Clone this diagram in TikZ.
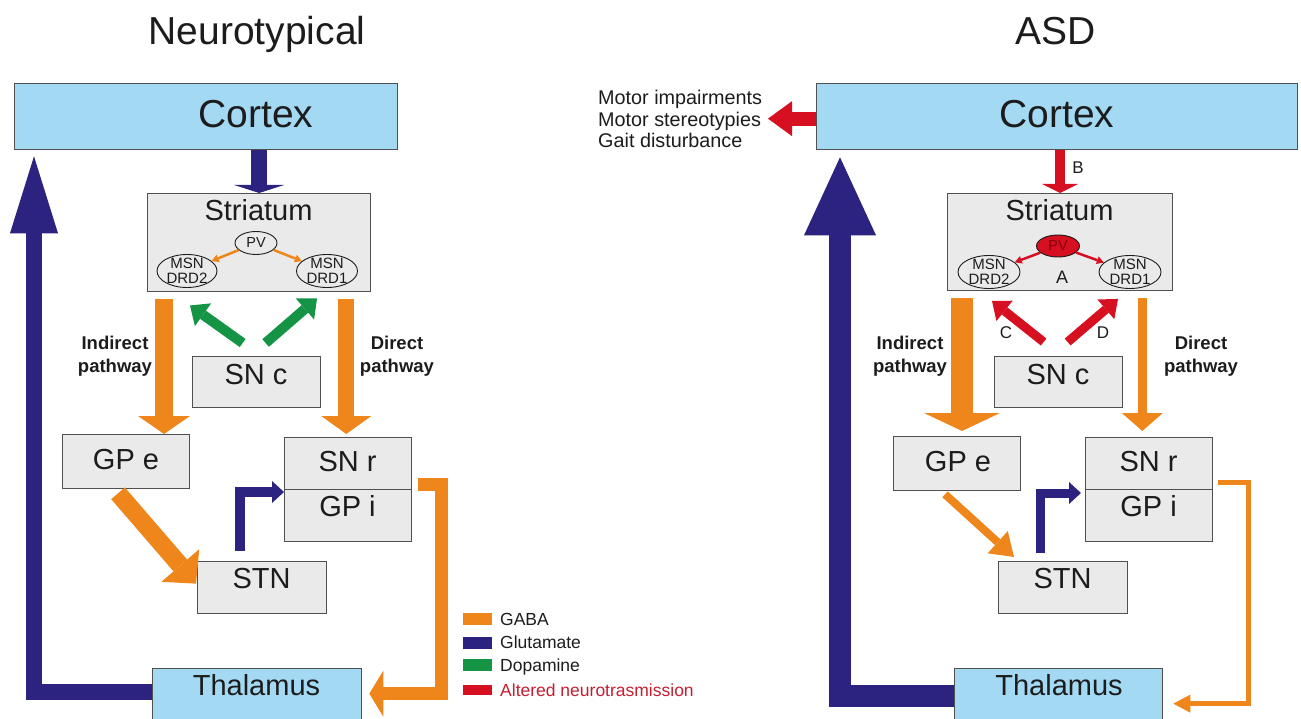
\documentclass[tikz,border=0pt]{standalone}
\usepackage{fontspec}
\setmainfont{Liberation Sans}
\usetikzlibrary{arrows.meta,calc,shapes.geometric}
\definecolor{cblue}{RGB}{164,217,244}
\definecolor{cgray}{RGB}{234,234,234}
\definecolor{cedge}{RGB}{80,80,80}
\definecolor{corange}{RGB}{239,134,27}
\definecolor{cnavy}{RGB}{44,34,128}
\definecolor{cgreen}{RGB}{20,148,68}
\definecolor{cred}{RGB}{214,16,32}
\definecolor{ctext}{RGB}{28,28,28}
\definecolor{credtext}{RGB}{196,30,48}
\definecolor{cpvtext}{RGB}{140,0,10}
\newcommand{\myfs}[2]{\fontsize{#1}{#2}\selectfont}
\begin{document}
\begin{tikzpicture}[x=1pt,y=-1pt,
  boxb/.style={draw=cedge,line width=1.3pt,fill=cblue,anchor=north west,inner sep=0pt},
  boxg/.style={draw=cedge,line width=1.3pt,fill=cgray,anchor=north west,inner sep=0pt},
  txbig/.style={font=\myfs{39}{46},text=ctext,inner sep=0pt,anchor=base},
  txmid/.style={font=\myfs{29}{34},text=ctext,inner sep=0pt,anchor=base},
  txpath/.style={font=\bfseries\myfs{18.5}{23},text=ctext,align=center,inner sep=0pt},
  txsmall/.style={font=\myfs{17}{20},text=ctext,inner sep=0pt},
  txleg/.style={font=\myfs{17.5}{21},text=ctext,inner sep=0pt,anchor=base west},
  txmotor/.style={font=\myfs{19.8}{21.5},text=ctext,inner sep=0pt,align=left},
  legr/.style={minimum width=29pt,minimum height=12pt,inner sep=0pt},
  oval/.style={ellipse,draw=ctext,line width=0.9pt,inner sep=0pt},
  ovtext/.style={font=\myfs{15}{15},text=ctext,align=center,inner sep=0pt},
  arr/.style 2 args={-{Triangle[width=#1,length=#2,line width=0pt]}},
  flow/.style={line cap=butt,line join=miter},
]
\useasboundingbox (0,0) rectangle (1301,719);
\clip (0,0) rectangle (1301,719);

% ---------------- titles
\node[txbig] (tL) at (257,45) {Neurotypical};
\node[txbig] (tR) at (1056,45) {ASD};

% ================= LEFT PANEL =================
\node[boxb,minimum width=383pt,minimum height=66pt] (ctxL) at (14,83) {};
\node[txbig] (ctxLt) at (256,128) {Cortex};
\node[boxg,minimum width=223pt,minimum height=98pt] (stL) at (147,193) {};
\node[txmid] (stLt) at (258.5,221) {Striatum};
\node[oval,minimum width=42pt,minimum height=23pt,font=\myfs{14.5}{14},text=ctext] (pvL) at (256,243) {PV};
\node[oval,minimum width=60pt,minimum height=33pt] (d2L) at (187,271) {};
\node[ovtext] (d2Lt) at (187,271) {MSN\\DRD2};
\node[oval,minimum width=61pt,minimum height=33pt] (d1L) at (327,271) {};
\node[ovtext] (d1Lt) at (327,271) {MSN\\DRD1};
\node[boxg,minimum width=128pt,minimum height=51pt] (sncL) at (192,356) {};
\node[txmid] (sncLt) at (256,384) {SN c};
\node[boxg,minimum width=127pt,minimum height=54pt] (gpeL) at (62,434) {};
\node[txmid] (gpeLt) at (126,469) {GP e};
\node[boxg,minimum width=127pt,minimum height=52pt] (snrL) at (284,437) {};
\node[txmid] (snrLt) at (347.5,471) {SN r};
\node[boxg,minimum width=127pt,minimum height=52pt] (gpiL) at (284,489) {};
\node[txmid] (gpiLt) at (347.5,516) {GP i};
\node[boxg,minimum width=129pt,minimum height=52pt] (stnL) at (197,561) {};
\node[txmid] (stnLt) at (261.5,588) {STN};
\node[boxb,minimum width=209pt,minimum height=56pt] (thL) at (152,668) {};
\node[txmid] (thLt) at (256.5,695) {Thalamus};
\node[txpath] (indL) at (115,356) {Indirect\\pathway};
\node[txpath] (dirL) at (397,356) {Direct\\pathway};

% arrows left
\draw[flow,cnavy,line width=16pt,arr={50pt}{8pt}] (stL.north |- ctxL.south) -- (stL.north);
\draw[corange,line width=2.5pt,-{Triangle[width=8pt,length=7pt,line width=0pt]}] (pvL) -- (d2L);
\draw[corange,line width=2.5pt,-{Triangle[width=8pt,length=7pt,line width=0pt]}] (pvL) -- (d1L);
\coordinate (inLs) at ($(stL.south west)+(17,7)$);
\draw[flow,corange,line width=18pt,arr={52pt}{18pt}] (inLs) -- (inLs |- gpeL.north);
\coordinate (drLs) at ($(stL.south east)+(-25,7)$);
\draw[flow,corange,line width=16pt,arr={50pt}{18pt},shorten >=3pt] (drLs) -- (drLs |- snrL.north);
\draw[flow,cgreen,line width=10pt,arr={28pt}{16pt}] ($(sncL.north)+(-14,-13)$) -- ($(d2L.south)+(3,17.5)$);
\draw[flow,cgreen,line width=10pt,arr={28pt}{16pt}] ($(sncL.north)+(9,-13)$) -- ($(d1L.south)+(-10,10.5)$);
\draw[flow,corange,line width=18pt,arr={50pt}{24pt}] ($(gpeL.south west)+(56,4)$) -- ($(stnL.west)+(-1,-4)$);
\draw[flow,cnavy,line width=10pt,arr={22pt}{12pt}] ($(stnL.north west)+(43,-10)$) |- ($(gpiL.north west)+(0,3)$);
\draw[flow,corange,line width=13pt,arr={46pt}{14pt}] ($(snrL.south east)+(6,-6)$) -| ($(thL.east)+(79,-3)$) -- ($(thL.east)+(7,-3)$);
\draw[flow,cnavy,line width=16pt,arr={48pt}{77pt}] ($(thL.west)+(0,-5)$) -| ($(ctxL.south west)+(20,6)$);

% legend
\node[legr,fill=corange] (lgA) at (477.5,619) {};
\node[txleg] (lgAt) at (500,625) {GABA};
\node[legr,fill=cnavy] (lgB) at (477.5,642.5) {};
\node[txleg] (lgBt) at (500,648.5) {Glutamate};
\node[legr,fill=cgreen] (lgC) at (477.5,665) {};
\node[txleg] (lgCt) at (500,671) {Dopamine};
\node[legr,fill=cred,minimum height=10pt] (lgD) at (477.5,690) {};
\node[txleg,text=credtext] (lgDt) at (500,696) {Altered neurotrasmission};

% ================= RIGHT PANEL =================
\node[boxb,minimum width=481pt,minimum height=66pt] (ctxR) at (816,83) {};
\node[txbig] (ctxRt) at (1057,128) {Cortex};
\node[txmotor,anchor=west] (mot) at (598,119) {Motor impairments\\Motor stereotypies\\Gait disturbance};
\node[boxg,minimum width=225pt,minimum height=97pt] (stR) at (947,193) {};
\node[txmid] (stRt) at (1059.5,221) {Striatum};
\node[oval,fill=cred,minimum width=43pt,minimum height=22pt,font=\myfs{14.5}{14},text=cpvtext] (pvR) at (1058,246) {PV};
\node[oval,minimum width=62pt,minimum height=33pt] (d2R) at (989,272) {};
\node[ovtext] (d2Rt) at (989,272) {MSN\\DRD2};
\node[oval,minimum width=62pt,minimum height=33pt] (d1R) at (1130,272) {};
\node[ovtext] (d1Rt) at (1130,272) {MSN\\DRD1};
\node[txsmall,font=\myfs{18}{20}] (lbA) at (1062,277) {A};
\node[boxg,minimum width=128pt,minimum height=51pt] (sncR) at (994,356) {};
\node[txmid] (sncRt) at (1058,384) {SN c};
\node[boxg,minimum width=127pt,minimum height=54pt] (gpeR) at (893,436) {};
\node[txmid] (gpeRt) at (958,471) {GP e};
\node[boxg,minimum width=127pt,minimum height=52pt] (snrR) at (1085,437) {};
\node[txmid] (snrRt) at (1148.5,471) {SN r};
\node[boxg,minimum width=127pt,minimum height=52pt] (gpiR) at (1085,489) {};
\node[txmid] (gpiRt) at (1148.5,516) {GP i};
\node[boxg,minimum width=129pt,minimum height=52pt] (stnR) at (998,561) {};
\node[txmid] (stnRt) at (1062.5,588) {STN};
\node[boxb,minimum width=208pt,minimum height=56pt] (thR) at (954,668) {};
\node[txmid] (thRt) at (1059,695) {Thalamus};
\node[txpath] (indR) at (910,356) {Indirect\\pathway};
\node[txpath] (dirR) at (1201,356) {Direct\\pathway};
\node[txsmall] (lbB) at (1078,168) {B};
\node[txsmall] (lbC) at (1006,333) {C};
\node[txsmall] (lbD) at (1103,333) {D};

% arrows right
\draw[flow,cred,line width=14pt,arr={35pt}{24pt}] ($(ctxR.west)+(0,2)$) -- ($(ctxR.west)+(-48,2)$);
\draw[flow,cred,line width=10pt,arr={36pt}{9pt}] (stR.north |- ctxR.south) -- (stR.north);
\draw[cred,line width=2.5pt,-{Triangle[width=8pt,length=7pt,line width=0pt]}] (pvR) -- (d2R);
\draw[cred,line width=2.5pt,-{Triangle[width=8pt,length=7pt,line width=0pt]}] (pvR) -- (d1R);
\coordinate (inRs) at ($(stR.south west)+(15,7)$);
\draw[flow,corange,line width=22pt,arr={76pt}{18pt},shorten >=5pt] (inRs) -- (inRs |- gpeR.north);
\coordinate (drRs) at ($(stR.south east)+(-31,7)$);
\draw[flow,corange,line width=9pt,arr={41pt}{18pt},shorten >=6pt] (drRs) -- (drRs |- snrR.north);
\draw[flow,cred,line width=9pt,arr={26pt}{16pt}] ($(sncR.north)+(-15,-14)$) -- ($(d2R.south)+(3,12)$);
\draw[flow,cred,line width=9pt,arr={26pt}{16pt}] ($(sncR.north)+(9,-14)$) -- ($(d1R.south)+(-12,10)$);
\draw[flow,corange,line width=8pt,arr={30pt}{22pt}] ($(gpeR.south west)+(52,3)$) -- ($(stnR.north west)+(16,-4)$);
\draw[flow,cnavy,line width=9pt,arr={22pt}{12pt}] ($(stnR.north west)+(42,-8)$) |- ($(gpiR.north west)+(-4,4)$);
\draw[flow,corange,line width=5pt,arr={18pt}{17pt}] ($(snrR.south east)+(5,-8)$) -| ($(thR.east)+(85,7)$) -- ($(thR.east)+(10,7)$);
\draw[flow,cnavy,line width=22pt,arr={72pt}{78pt}] ($(thR.west)+(0,-1)$) -| ($(ctxR.south west)+(24,7)$);
\end{tikzpicture}
\end{document}
